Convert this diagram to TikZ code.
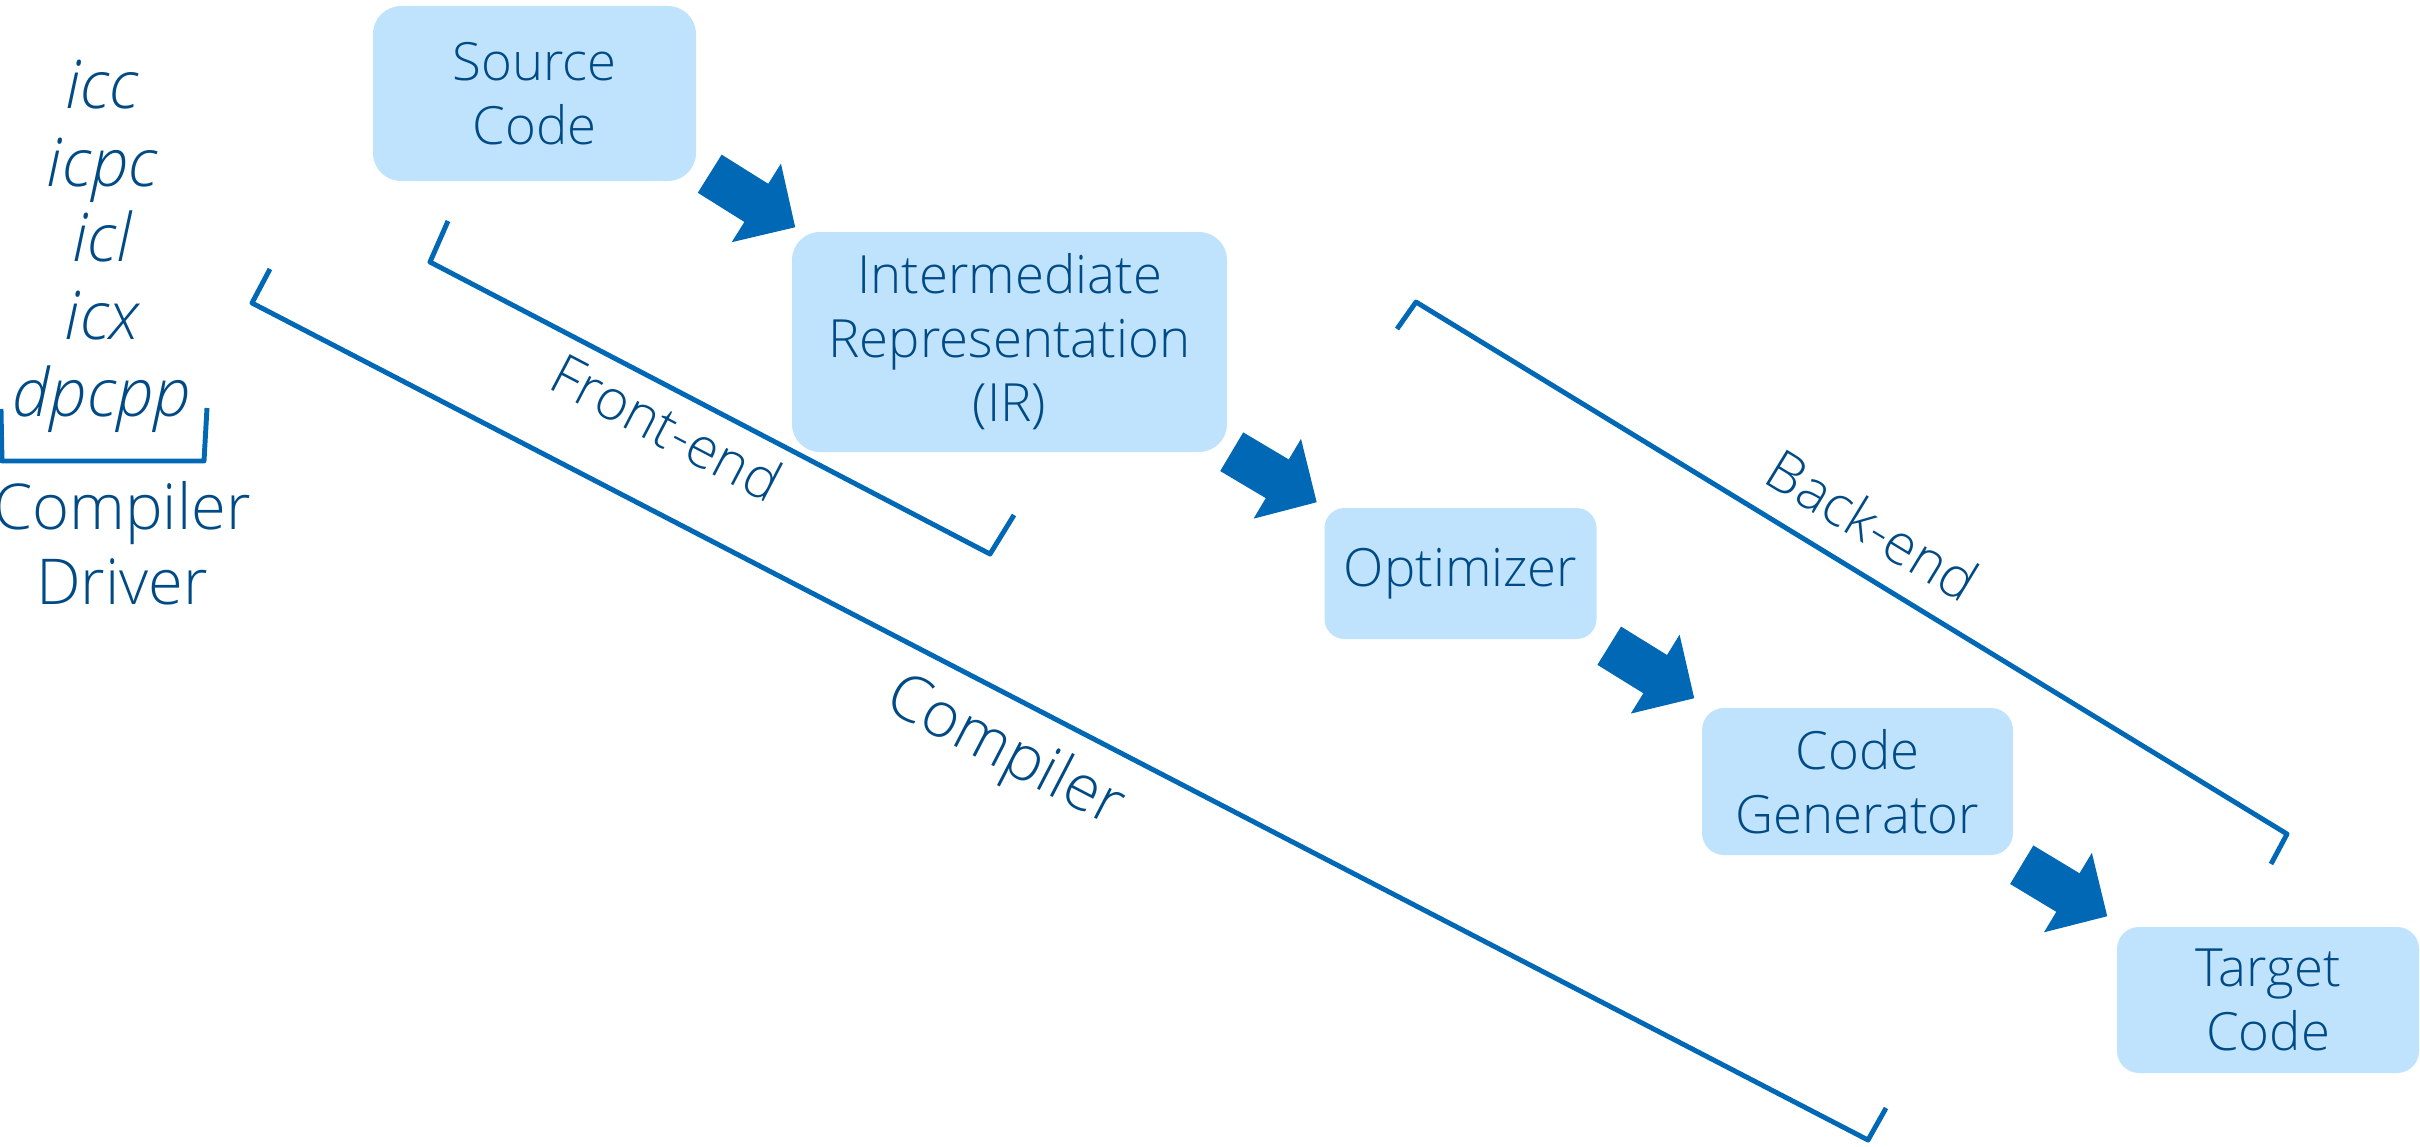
\documentclass[tikz,border=0pt]{standalone}
\usepackage{fontspec}
\setmainfont{Open Sans}[UprightFont=* Light, ItalicFont=* Light Italic]
\usetikzlibrary{arrows.meta,calc}
\definecolor{boxfill}{HTML}{BFE3FC}
\definecolor{txtblue}{HTML}{004A86}
\definecolor{intelblue}{HTML}{0068B5}
\begin{document}
\begin{tikzpicture}[x=1cm,y=1cm,
  box/.style={fill=boxfill, rounded corners=0.28cm, text=txtblue, align=center,
    font=\fontsize{15}{18.2}\selectfont, inner sep=0pt},
  flow/.style={intelblue, line width=0.45cm, -{Triangle[width=0.9cm,length=0.46cm]}},
  brk/.style={intelblue, line width=1.4pt, line join=round},
  lbl/.style={text=txtblue, inner sep=0pt},
  drv/.style={text=txtblue, font=\fontsize{19}{22.8}\selectfont\itshape, anchor=base, inner sep=0pt},
  drvname/.style={text=txtblue, font=\fontsize{18}{21.6}\selectfont, anchor=base, inner sep=0pt}
]
\useasboundingbox (0,0) rectangle (24.2,-11.46);

% boxes
\node[box, minimum width=3.23cm, minimum height=1.75cm] (src) at (5.345,-0.935) {Source\\Code};
\node[box, minimum width=4.35cm, minimum height=2.2cm] (ir) at (10.095,-3.42) {Intermediate\\Representation\\(IR)};
\node[box, minimum width=2.72cm, minimum height=1.31cm, rounded corners=0.2cm] (opt) at (14.605,-5.735) {Optimizer};
\node[box, minimum width=3.11cm, minimum height=1.47cm, rounded corners=0.22cm] (cg) at (18.575,-7.815) {Code\\Generator};
\node[box, minimum width=3.02cm, minimum height=1.46cm, rounded corners=0.22cm] (tgt) at (22.68,-10.0) {Target\\Code};

% flow arrows
\draw[flow] ($(src.south east)+(0.13,0.08)$) -- ($(ir.north west)+(0.04,0.04)$);
\draw[flow] ($(ir.south east)+(0.04,0.01)$) -- ($(opt.north west)+(-0.07,0.05)$);
\draw[flow] ($(opt.south east)+(0.12,-0.06)$) -- ($(cg.north west)+(-0.07,0.09)$);
\draw[flow] ($(cg.south east)+(0.08,-0.09)$) -- ($(tgt.north west)+(-0.09,0.10)$);

% brackets
\draw[brk] (2.70,-2.69) -- (2.52,-3.03) -- (18.68,-11.40) -- (18.86,-11.08);
\draw[brk] (4.48,-2.21) -- (4.30,-2.62) -- (9.90,-5.54) -- (10.14,-5.15);
\draw[brk] (13.97,-3.29) -- (14.16,-3.02) -- (22.87,-8.34) -- (22.71,-8.64);
\draw[brk] (0.01,-4.09) -- (0.02,-4.61) -- (2.04,-4.61) -- (2.07,-4.08);

% bracket labels
\node[lbl, font=\fontsize{16}{19}\selectfont, rotate=-27.6] (fe) at (6.67,-4.27) {Front-end};
\node[lbl, font=\fontsize{18}{21.6}\selectfont, rotate=-27.4] (cl) at (10.04,-7.53) {Compiler};
\node[lbl, font=\fontsize{16}{19}\selectfont, rotate=-31.4] (be) at (18.73,-5.25) {Back-end};

% driver list
\node[drv] (d1) at (1.02,-1.08) {icc};
\node[drv] (d2) at (1.02,-1.86) {icpc};
\node[drv] (d3) at (1.02,-2.61) {icl};
\node[drv] (d4) at (1.02,-3.39) {icx};
\node[drv] (d5) at (1.02,-4.16) {dpcpp};
\node[drvname] (cd1) at (1.22,-5.29) {Compiler};
\node[drvname] (cd2) at (1.22,-6.04) {Driver};
\end{tikzpicture}
\end{document}
